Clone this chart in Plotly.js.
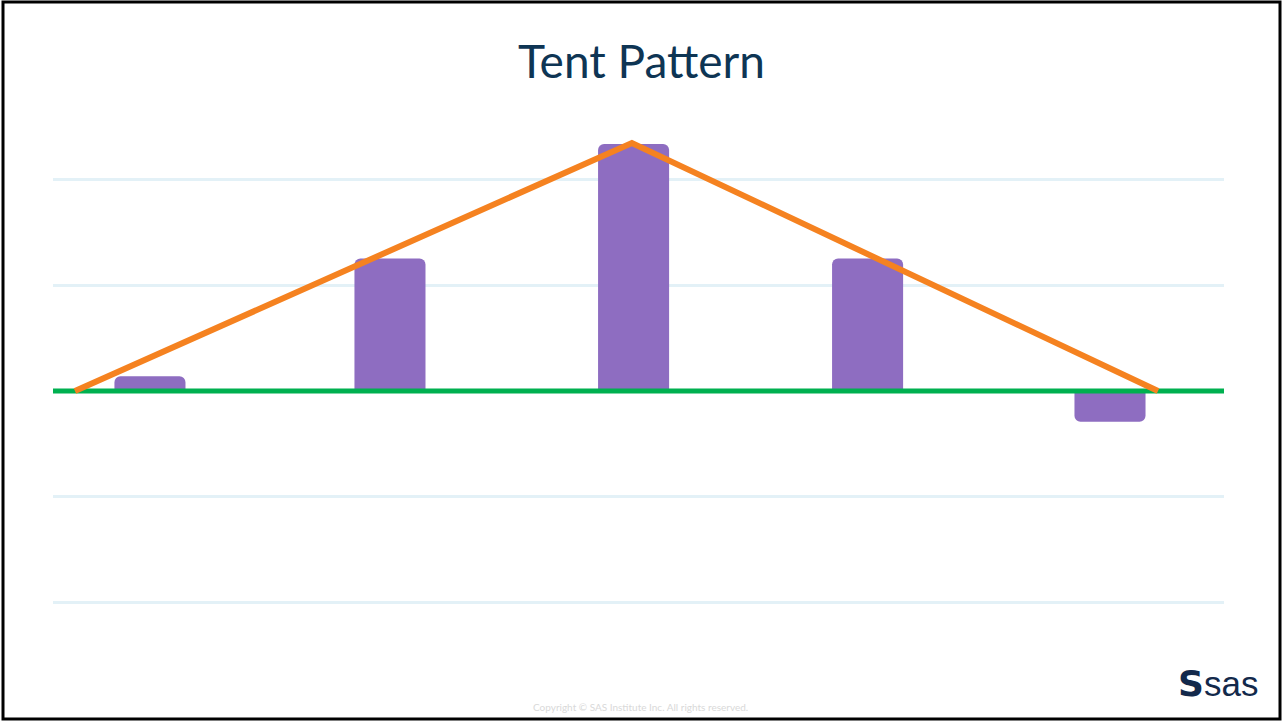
<!DOCTYPE html>
<html>
<head>
<meta charset="utf-8">
<script src="https://cdn.plot.ly/plotly-3.0.1.min.js"></script>
<style>
html,body{margin:0;padding:0;background:#fff;}
#chart{width:1283px;height:722px;}
</style>
</head>
<body>
<div id="chart"></div>
<script>
// ---- data ----
const barX = [0, 1, 2.015, 2.99, 4.0];
const barValues = [0.14, 1.25, 2.33, 1.25, -0.29];
const tentX = [-0.3125, 2.008, 4.2];
const tentY = [0, 2.34, 0];
const baselineX = [-0.404, 4.475];
const baselineY = [0, 0];
const titleText = 'Tent Pattern';
const copyrightText = 'Copyright \u00A9 SAS Institute Inc. All rights reserved.';
const logoText = 'sas';

// ---- layout helpers ----
const W = 1283, H = 722;
const M = {l: 53, r: 59, t: 110, b: 62};
const pw = W - M.l - M.r, ph = H - M.t - M.b;
const px = x => (x - M.l) / pw;
const py = y => (H - M.b - y) / ph;

const traces = [
  {
    type: 'bar', x: barX, y: barValues, width: 0.296,
    marker: {color: '#8E6DC1', cornerradius: 6, line: {width: 0}},
    hoverinfo: 'y'
  },
  {
    type: 'scatter', mode: 'lines', x: baselineX, y: baselineY,
    line: {color: '#00B050', width: 5}, hoverinfo: 'skip'
  },
  {
    type: 'scatter', mode: 'lines', x: tentX, y: tentY,
    line: {color: '#F58220', width: 6}, hoverinfo: 'skip'
  }
];

const layout = {
  width: W, height: H,
  margin: M,
  paper_bgcolor: '#ffffff', plot_bgcolor: '#ffffff',
  showlegend: false,
  title: {
    text: titleText, x: 0.5, xref: 'container', xanchor: 'center',
    y: 1 - 62 / H, yref: 'container', yanchor: 'middle',
    font: {family: 'Lato, "Open Sans", sans-serif', size: 46, color: '#0E3554'}
  },
  xaxis: {
    range: baselineX, showgrid: false, zeroline: false, showticklabels: false,
    showline: false, ticks: '', fixedrange: true
  },
  yaxis: {
    range: [-2.538, 2.651], dtick: 1, tick0: 0,
    showgrid: true, gridcolor: '#E3F1F7', gridwidth: 3,
    zeroline: false, showticklabels: false, showline: false, ticks: '', fixedrange: true
  },
  annotations: [
    {
      text: copyrightText, xref: 'paper', yref: 'paper',
      x: px(640), y: py(707), xanchor: 'center', yanchor: 'middle', showarrow: false,
      font: {family: 'Lato, sans-serif', size: 10, color: '#D9D9D9'}
    },
    {
      text: logoText, xref: 'paper', yref: 'paper',
      x: px(1202), y: py(683), xanchor: 'left', yanchor: 'middle', showarrow: false,
      font: {family: '"Liberation Sans", Arial, sans-serif', size: 35, color: '#13294B'}
    },
    {
      text: '<b>S</b>', xref: 'paper', yref: 'paper',
      x: px(1191), y: py(683), xanchor: 'center', yanchor: 'middle', showarrow: false,
      font: {family: '"DejaVu Sans", sans-serif', size: 36, color: '#13294B'}
    }
  ],
  shapes: [
    {
      type: 'rect', xref: 'paper', yref: 'paper',
      x0: px(3), x1: px(1280), y0: py(2), y1: py(719),
      line: {color: '#000000', width: 3}, fillcolor: 'rgba(0,0,0,0)', layer: 'above'
    }
  ]
};

Plotly.newPlot('chart', traces, layout, {displayModeBar: false, staticPlot: true});
</script>
</body>
</html>
